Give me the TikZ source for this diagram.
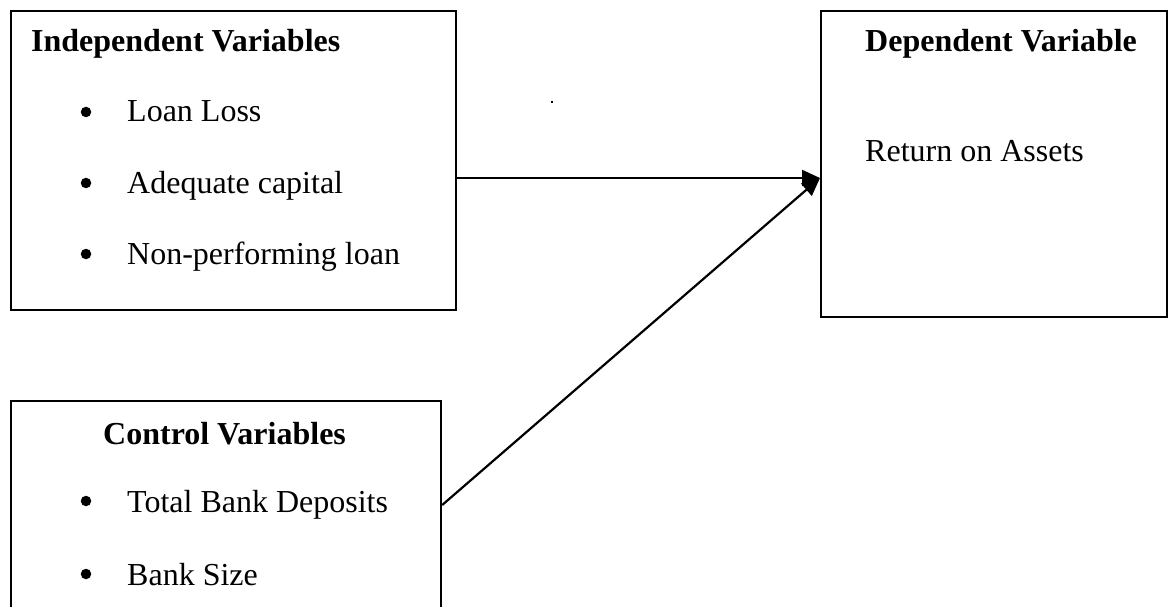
\documentclass[tikz,border=0pt]{standalone}
\usepackage{fontspec}
\setmainfont{Liberation Serif}
\usetikzlibrary{arrows.meta}
\begin{document}
\begin{tikzpicture}[x=1pt,y=-1pt,
  box/.style={draw=black,line width=2.2pt,rectangle,inner sep=0pt,anchor=north west},
  txt/.style={anchor=base west,inner sep=0pt,font=\fontsize{32}{38}\selectfont},
  head/.style={txt,font=\fontsize{32}{38}\selectfont\bfseries},
  bul/.style={circle,fill=black,inner sep=0pt,minimum size=10.5pt},
  link/.style={line width=2.2pt,-{Triangle[length=18pt,width=16pt]}}]
\clip (0,0) rectangle (1171,607);
\fill[white] (0,0) rectangle (1171,607);
% boxes
\node[box,minimum width=445pt,minimum height=299pt] (ind) at (10,10) {};
\node[box,minimum width=430pt,minimum height=240pt] (ctl) at (10,400) {};
\node[box,minimum width=346pt,minimum height=306pt] (dep) at (820,10) {};
% independent
\node[head] (indh) at (31,52) {Independent Variables};
\node[bul] (b1) at (86,112) {};
\node[txt] (i1) at (127,122) {Loan Loss};
\node[bul] (b2) at (86,183) {};
\node[txt] (i2) at (127,194) {Adequate capital};
\node[bul] (b3) at (86,254) {};
\node[txt] (i3) at (127,265) {Non-performing loan};
% control
\node[head] (ctlh) at (103,444) {Control Variables};
\node[bul] (b4) at (86,501) {};
\node[txt] (c1) at (127,512) {Total Bank Deposits};
\node[bul] (b5) at (86,574) {};
\node[txt] (c2) at (127,585) {Bank Size};
% dependent
\node[head] (deph) at (865,52) {Dependent Variable};
\node[txt] (d1) at (865,162) {Return on Assets};
% stray dot
\node[inner sep=0pt,fill=black,minimum size=2pt] (dot) at (552,102) {};
% connectors
\coordinate (tgt) at (dep.west |- 0,178);
\coordinate (src2) at (ctl.east |- 0,505);
\draw[link] (ind.east |- tgt) -- (tgt);
\draw[link] (src2) -- (tgt);
\end{tikzpicture}
\end{document}
